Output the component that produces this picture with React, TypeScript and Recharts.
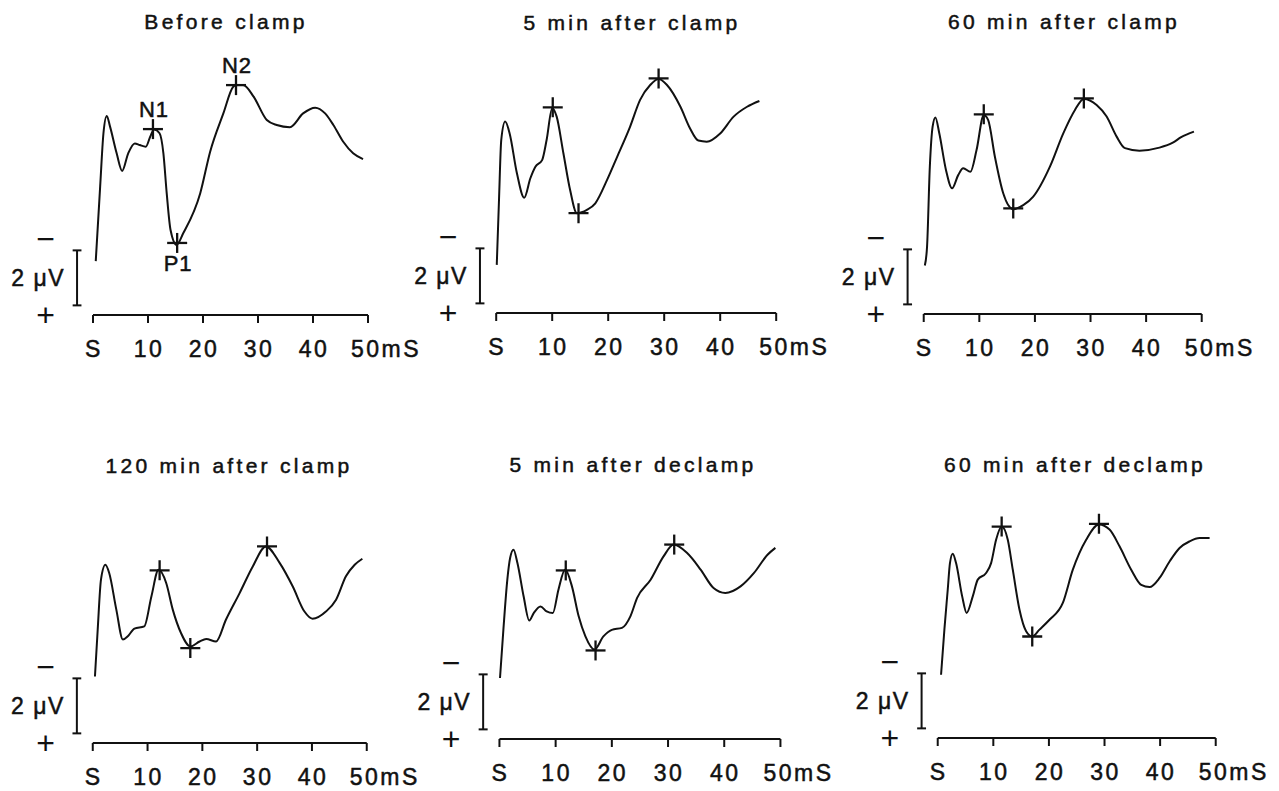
import { ComposedChart, Line, Scatter, XAxis, YAxis, ReferenceLine, ReferenceDot } from "recharts";

// waveform samples: [latency ms, potential µV] (negative up)
const beforeClamp: [number, number][] = [
  [0.5, -1.96], [1.3, -4.67], [1.9, -6.61], [2.5, -7.24], [3.1, -6.85], [4.3, -5.88], [5.3, -5.24],
  [6.4, -5.88], [7.6, -6.24], [8.5, -6.18], [9.6, -6.12], [10.4, -6.48], [11.1, -6.75], [12.1, -6.61],
  [12.8, -5.88], [13.4, -4.43], [14.1, -3.09], [15.2, -2.55], [16.4, -2.97], [19.5, -4.43], [21.3, -5.94],
  [23.7, -7.33], [25.5, -8.3], [26.1, -8.36], [27.3, -8.36], [29.2, -7.94], [31.6, -7.09], [33.4, -6.91],
  [35.8, -6.83], [38.2, -7.33], [40.4, -7.54], [42.2, -7.33], [43.7, -6.91], [45.5, -6.3], [47.3, -5.88],
  [49.1, -5.67],
];
const min5Clamp: [number, number][] = [
  [0.1, -1.75], [0.5, -4.11], [0.9, -6.29], [1.6, -6.96], [2.4, -6.53], [3.7, -5.08], [5.0, -4.19],
  [6.1, -4.9], [7.0, -5.32], [8.2, -5.56], [9.0, -6.29], [10.0, -7.45], [10.8, -7.14], [12.0, -5.81],
  [13.2, -4.47], [14.4, -3.63], [16.2, -3.75], [17.7, -3.99], [19.8, -4.84], [21.6, -5.68], [23.9, -6.77],
  [25.7, -7.75], [27.5, -8.29], [29.0, -8.51], [30.5, -8.29], [32.9, -7.5], [34.6, -6.72], [36.1, -6.27],
  [37.6, -6.23], [40.0, -6.53], [42.4, -7.14], [44.8, -7.5], [47.0, -7.71],
];
const min60Clamp: [number, number][] = [
  [0.2, -1.76], [0.6, -2.45], [1.1, -5.36], [1.6, -6.81], [2.1, -7.15], [2.8, -6.57], [4.0, -5.24],
  [5.1, -4.57], [6.2, -5.05], [7.1, -5.3], [8.4, -5.17], [9.5, -5.96], [10.8, -7.24], [11.6, -7.05],
  [12.8, -5.72], [14.3, -4.39], [16.1, -3.81], [17.9, -3.96], [19.7, -4.27], [22.7, -5.36], [25.1, -6.57],
  [27.2, -7.42], [28.8, -7.82], [31.1, -7.6], [32.9, -7.18], [34.7, -6.45], [36.2, -6.03], [38.8, -5.94],
  [42.4, -6.05], [44.8, -6.23], [46.3, -6.43], [48.6, -6.63],
];
const min120Clamp: [number, number][] = [
  [0.4, -2.42], [0.9, -4.12], [1.5, -5.94], [2.3, -6.48], [3.0, -6.18], [4.3, -4.85], [5.5, -3.76],
  [6.4, -3.88], [7.6, -4.16], [9.4, -4.24], [10.7, -5.33], [12.0, -6.3], [13.4, -5.82], [14.6, -4.85],
  [16.1, -4.0], [17.8, -3.51], [19.5, -3.69], [20.7, -3.78], [22.5, -3.69], [24.3, -4.48], [26.8, -5.45],
  [29.2, -6.42], [31.6, -7.15], [34.1, -6.55], [36.5, -5.69], [38.6, -4.79], [40.1, -4.52], [42.6, -4.79],
  [44.4, -5.21], [46.2, -6.06], [47.8, -6.48], [49.2, -6.7],
];
const min5Declamp: [number, number][] = [
  [0.1, -2.22], [0.7, -3.97], [1.4, -5.79], [1.9, -6.58], [2.5, -6.88], [3.2, -6.4], [4.3, -5.19],
  [5.3, -4.31], [6.1, -4.58], [7.3, -4.82], [8.4, -4.64], [9.5, -4.58], [10.5, -5.43], [11.7, -6.16],
  [12.9, -5.55], [14.1, -4.46], [15.3, -3.73], [16.9, -3.25], [18.5, -3.73], [20.0, -3.97], [21.8, -4.04],
  [23.3, -4.46], [24.5, -5.13], [26.9, -5.79], [29.2, -6.64], [31.0, -7.07], [33.4, -6.76], [35.8, -6.16],
  [38.1, -5.49], [40.2, -5.31], [42.9, -5.55], [45.3, -6.04], [47.7, -6.7], [49.1, -6.95],
];
const min60Declamp: [number, number][] = [
  [0.6, -2.3], [1.2, -3.94], [1.8, -5.39], [2.2, -6.36], [2.7, -6.7], [3.3, -6.36], [4.4, -5.15],
  [5.2, -4.55], [6.3, -5.15], [7.2, -5.76], [8.7, -6.0], [9.6, -6.36], [10.5, -7.21], [11.5, -7.69],
  [12.6, -7.21], [13.5, -6.12], [14.7, -4.67], [15.9, -3.88], [17.0, -3.69], [18.3, -3.94], [20.1, -4.3],
  [22.5, -4.91], [24.3, -6.12], [26.7, -7.21], [29.0, -7.76], [30.9, -7.58], [32.7, -6.97], [34.8, -6.12],
  [36.6, -5.57], [38.1, -5.49], [39.9, -5.82], [41.7, -6.42], [43.5, -6.91], [45.3, -7.15], [47.1, -7.27],
  [48.9, -7.27],
];

// marked peaks N1, P1, N2: [latency ms, potential µV]
const beforeClampPeaks: [number, number][] = [[10.9, -6.76], [15.3, -2.62], [26.0, -8.36]];
const min5ClampPeaks: [number, number][] = [[10.1, -7.48], [14.7, -3.63], [29.0, -8.53]];
const min60ClampPeaks: [number, number][] = [[10.8, -7.26], [16.1, -3.84], [28.8, -7.84]];
const min120ClampPeaks: [number, number][] = [[12.2, -6.28], [17.8, -3.45], [31.8, -7.15]];
const min5DeclampPeaks: [number, number][] = [[11.8, -6.13], [17.1, -3.22], [31.1, -7.07]];
const min60DeclampPeaks: [number, number][] = [[11.5, -7.69], [17.0, -3.69], [29.0, -7.79]];

const PEAK_NAMES = ["N1", "P1", "N2"];
const TIME_TICKS = [0, 10, 20, 30, 40, 50];
const TITLES = [
  "Before clamp",
  "5 min after clamp",
  "60 min after clamp",
  "120 min after clamp",
  "5 min after declamp",
  "60 min after declamp",
];

// 2 µV calibration bar
const CAL_T = -2.9;
const CAL_BOTTOM = -0.35;
const CAL_UV = 2;

const FONT = "'Liberation Sans', Arial, Helvetica, sans-serif";
const INK = "#111";
const X_MIN = -12;
const X_MAX = 50;
const Y_MIN = -10;
const Y_MAX = 0;
const PX_PER_UV = 27.5;
const MARGIN = { top: 20, right: 60, bottom: 5, left: 30 };
const X_AXIS_H = 50;

const panels = [
  { title: TITLES[0], wave: beforeClamp, peaks: beforeClampPeaks, labelled: true, x0: 93, x50: 368, axisY: 315, titleX: 226, titleTop: 11 },
  { title: TITLES[1], wave: min5Clamp, peaks: min5ClampPeaks, labelled: false, x0: 496, x50: 776, axisY: 313, titleX: 632, titleTop: 12 },
  { title: TITLES[2], wave: min60Clamp, peaks: min60ClampPeaks, labelled: false, x0: 924, x50: 1202, axisY: 314, titleX: 1064, titleTop: 11 },
  { title: TITLES[3], wave: min120Clamp, peaks: min120ClampPeaks, labelled: false, x0: 93, x50: 367, axisY: 743, titleX: 229, titleTop: 455 },
  { title: TITLES[4], wave: min5Declamp, peaks: min5DeclampPeaks, labelled: false, x0: 499, x50: 780, axisY: 739, titleX: 633, titleTop: 454 },
  { title: TITLES[5], wave: min60Declamp, peaks: min60DeclampPeaks, labelled: false, x0: 938, x50: 1216, axisY: 738, titleX: 1075, titleTop: 454 },
];

function TimeTick(props: any) {
  const { x, y, payload } = props;
  const v = payload.value;
  const label = v === 0 ? "S" : v === 50 ? "50mS" : String(v);
  return (
    <text
      x={v === 50 ? x - 17 : x + 1}
      y={y + 34}
      textAnchor={v === 50 ? "start" : "middle"}
      fontFamily={FONT}
      fontSize={23}
      letterSpacing={2.5}
      fill={INK}
      stroke={INK}
      strokeWidth={0.5}
    >
      {label}
    </text>
  );
}

function PeakCross(props: any) {
  const { cx, cy, payload } = props;
  const name = payload?.name;
  return (
    <g>
      <line x1={cx - 10} x2={cx + 10} y1={cy} y2={cy} stroke={INK} strokeWidth={2.3} />
      <line x1={cx} x2={cx} y1={cy - 10} y2={cy + 10} stroke={INK} strokeWidth={2.3} />
      {name && (
        <text
          x={cx + 1}
          y={name === "P1" ? cy + 28 : cy - 12}
          textAnchor="middle"
          fontFamily={FONT}
          fontSize={22}
          letterSpacing={1}
          fill={INK}
          stroke={INK}
          strokeWidth={0.5}
        >
          {name}
        </text>
      )}
    </g>
  );
}

const textMark = (text: string, anchor: string, dx: number, size: number, spacing: number, weight: number) => (p: any) => (
  <text
    x={p.cx + dx}
    y={p.cy}
    textAnchor={anchor}
    dominantBaseline="central"
    fontFamily={FONT}
    fontSize={size}
    letterSpacing={spacing}
    fill={INK}
    stroke={INK}
    strokeWidth={weight}
  >
    {text}
  </text>
);

function Panel({ panel }: { panel: (typeof panels)[number] }) {
  const k = (panel.x50 - panel.x0) / 50;
  const plotW = (X_MAX - X_MIN) * k;
  const plotH = (Y_MAX - Y_MIN) * PX_PER_UV;
  const width = MARGIN.left + plotW + MARGIN.right;
  const height = MARGIN.top + plotH + X_AXIS_H + MARGIN.bottom;
  const left = panel.x0 + X_MIN * k - MARGIN.left;
  const top = panel.axisY - plotH - MARGIN.top;

  const wave = panel.wave.map(([t, v]) => ({ t, v }));
  const peaks = panel.peaks.map(([t, v], i) => ({ t, v, name: panel.labelled ? PEAK_NAMES[i] : undefined }));
  const calTop = CAL_BOTTOM - CAL_UV;

  return (
    <>
      <div
        style={{
          position: "absolute",
          left: panel.titleX - 200,
          width: 400,
          top: panel.titleTop,
          textAlign: "center",
          fontFamily: FONT,
          fontSize: 21,
          lineHeight: "21px",
          letterSpacing: 3.3,
          color: INK,
          whiteSpace: "nowrap",
          WebkitTextStroke: "0.5px #111",
        }}
      >
        {panel.title}
      </div>
      <div style={{ position: "absolute", left, top }}>
        <ComposedChart width={width} height={height} margin={MARGIN}>
          <XAxis
            type="number"
            dataKey="t"
            domain={[X_MIN, X_MAX]}
            ticks={TIME_TICKS}
            allowDataOverflow
            axisLine={false}
            tickLine={{ stroke: INK, strokeWidth: 2 }}
            tickSize={8}
            tickMargin={0}
            height={X_AXIS_H}
            tick={<TimeTick />}
            interval={0}
          />
          <YAxis type="number" dataKey="v" domain={[Y_MIN, Y_MAX]} reversed hide allowDataOverflow />
          <ReferenceLine
            segment={[{ x: 0, y: 0 }, { x: 50, y: 0 }]}
            stroke={INK}
            strokeWidth={2.2}
            ifOverflow="visible"
          />
          <ReferenceLine
            segment={[{ x: CAL_T, y: CAL_BOTTOM }, { x: CAL_T, y: calTop }]}
            stroke={INK}
            strokeWidth={2}
            ifOverflow="visible"
          />
          <ReferenceLine
            segment={[{ x: CAL_T - 0.8, y: CAL_BOTTOM }, { x: CAL_T + 0.8, y: CAL_BOTTOM }]}
            stroke={INK}
            strokeWidth={2}
            ifOverflow="visible"
          />
          <ReferenceLine
            segment={[{ x: CAL_T - 0.8, y: calTop }, { x: CAL_T + 0.8, y: calTop }]}
            stroke={INK}
            strokeWidth={2}
            ifOverflow="visible"
          />
          <ReferenceDot x={CAL_T} y={CAL_BOTTOM - CAL_UV / 2} ifOverflow="visible" shape={textMark("2 μV", "end", -12, 23, 1.5, 0.5)} />
          <ReferenceDot x={-8.6} y={calTop - 0.4} ifOverflow="visible" shape={textMark("−", "middle", 0, 32, 0, 0)} />
          <ReferenceDot x={-8.6} y={0} ifOverflow="visible" shape={textMark("+", "middle", 0, 32, 0, 0)} />
          <Line
            data={wave}
            dataKey="v"
            type="monotone"
            stroke={INK}
            strokeWidth={2}
            dot={false}
            isAnimationActive={false}
          />
          <Scatter data={peaks} dataKey="v" shape={<PeakCross />} isAnimationActive={false} />
        </ComposedChart>
      </div>
    </>
  );
}

export default function App() {
  return (
    <div style={{ position: "absolute", left: 0, top: 0, width: 1279, height: 791, background: "#fff" }}>
      {panels.map((p) => (
        <Panel key={p.title} panel={p} />
      ))}
    </div>
  );
}
